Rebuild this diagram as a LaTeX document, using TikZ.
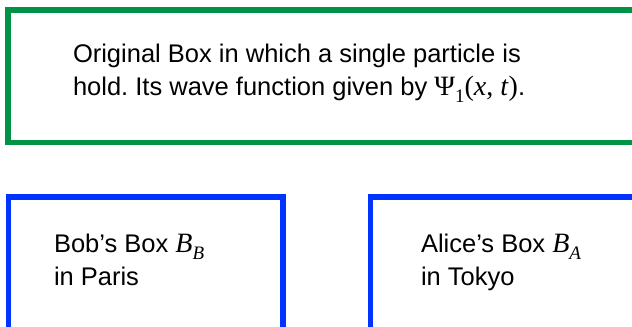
\documentclass[tikz,border=0pt]{standalone}
\usepackage{fontspec}
\setmainfont{Liberation Sans}
\newfontfamily\tms{Liberation Serif}
\definecolor{boxgreen}{RGB}{0,146,69}
\definecolor{boxblue}{RGB}{0,51,255}
\newcommand\serifbig[1]{{\tms\fontsize{28bp}{33bp}\selectfont #1}}
\newcommand\lowsub[1]{\raisebox{-0.3em}{\tms\fontsize{19bp}{19bp}\selectfont #1}}
\frenchspacing
\tikzset{
  greenbox/.style={draw=boxgreen, line width=5.5bp, inner sep=0pt, outer sep=0pt, anchor=north west},
  bluebox/.style={draw=boxblue, line width=5.5bp, inner sep=0pt, outer sep=0pt, anchor=north west},
  txt/.style={anchor=base west, inner sep=0pt, outer sep=0pt, align=left, font=\fontsize{25.5bp}{33bp}\selectfont}
}
\begin{document}
\begin{tikzpicture}[x=1bp,y=-1bp]
\useasboundingbox (0,0) rectangle (632,326);
\node[greenbox, minimum width=650bp, minimum height=132.5bp] (orig) at (8,10) {};
\node[bluebox, minimum width=274.5bp, minimum height=200bp] (bob) at (8.5,197) {};
\node[bluebox, minimum width=400bp, minimum height=200bp] (alice) at (370.5,197) {};
\node[txt] (origtxt) at (73,95) {Original Box in which a single particle is\\hold. Its wave function given by \serifbig{Ψ}\lowsub{1}\serifbig{(\textit{x}, \textit{t})}.};
\node[txt] (bobtxt) at (54,285) {Bob’s Box \serifbig{\itshape B}\lowsub{\itshape B}\\in Paris};
\node[txt] (alicetxt) at (421,285) {Alice’s Box \serifbig{\itshape B}\lowsub{\itshape A}\\in Tokyo};
\end{tikzpicture}
\end{document}
